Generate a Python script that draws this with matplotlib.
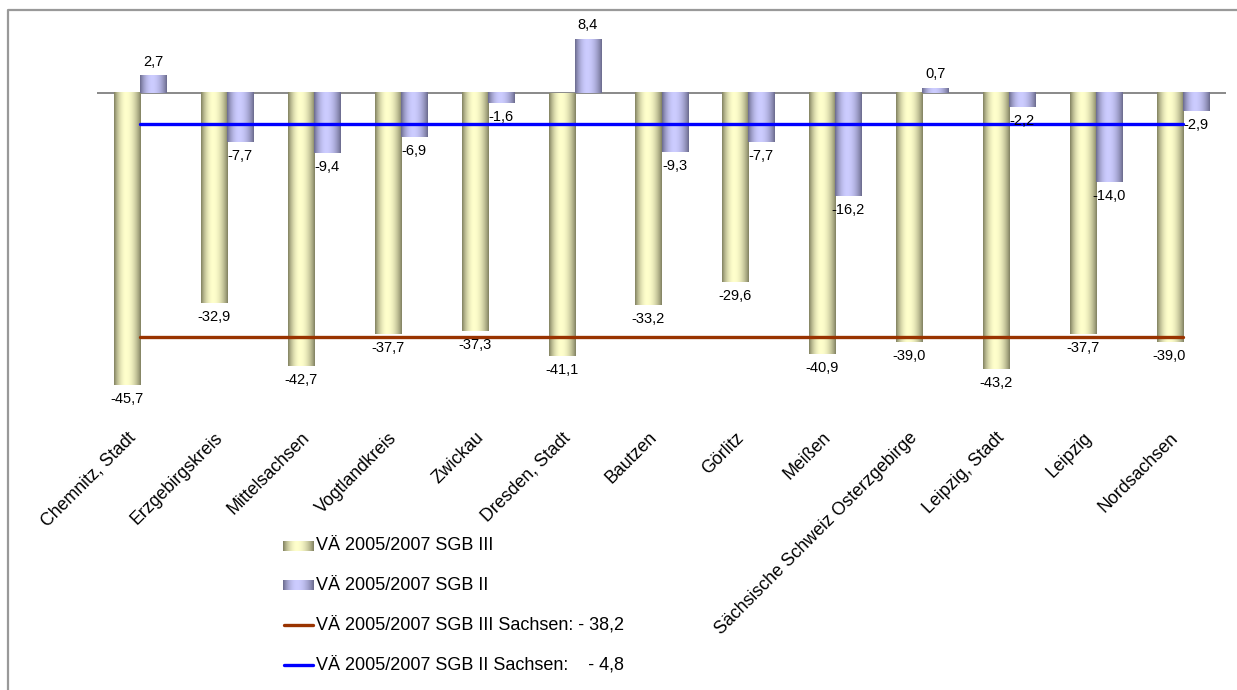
import numpy as np
import matplotlib.pyplot as plt
import matplotlib.transforms as mtransforms
from matplotlib.colors import to_rgb

plt.rcParams["font.family"] = ["Liberation Sans", "DejaVu Sans"]

kreise = ["Chemnitz, Stadt", "Erzgebirgskreis", "Mittelsachsen", "Vogtlandkreis",
          "Zwickau", "Dresden, Stadt", "Bautzen", "Görlitz", "Meißen",
          "Sächsische Schweiz Osterzgebirge", "Leipzig, Stadt", "Leipzig", "Nordsachsen"]
sgb3 = [-45.7, -32.9, -42.7, -37.7, -37.3, -41.1, -33.2, -29.6, -40.9, -39.0, -43.2, -37.7, -39.0]
sgb2 = [2.7, -7.7, -9.4, -6.9, -1.6, 8.4, -9.3, -7.7, -16.2, 0.7, -2.2, -14.0, -2.9]
sachsen_sgb3 = -38.2
sachsen_sgb2 = -4.8

legend_labels = ["VÄ 2005/2007 SGB III",
                 "VÄ 2005/2007 SGB II",
                 "VÄ 2005/2007 SGB III Sachsen: - 38,2",
                 "VÄ 2005/2007 SGB II Sachsen:    - 4,8"]

OLIVE = ("#7e7e5e", "#ffffcc")
LAVENDER = ("#68688a", "#ccccff")
RED = "#993300"
BLUE = "#0000ff"


def cylinder(edge, center, n=64):
    # horizontal shading: dark edges, highlight a bit left of the middle
    t = np.linspace(0, 1, n)
    f = np.where(t < 0.45, np.sin(t / 0.45 * np.pi / 2), np.cos((t - 0.45) / 0.55 * np.pi / 2))
    f = f ** 0.8
    e, c = np.array(to_rgb(edge)), np.array(to_rgb(center))
    return (e + (c - e) * f[:, None])[None, :, :]


def gradient_bar(axis, x0, x1, y0, y1, colors):
    axis.imshow(cylinder(*colors), extent=[x0, x1, min(y0, y1), max(y0, y1)],
                aspect="auto", interpolation="bicubic", zorder=2)


def fmt(v):
    return f"{v:.1f}".replace(".", ",")


fig = plt.figure(figsize=(12.37, 6.90), dpi=100)
W, H = 1237, 690
ax = fig.add_axes([97 / W, 1 - 410 / H, 1129 / W, 390 / H])

x = np.arange(len(kreise))
bw = 0.3

for i, (a, b) in enumerate(zip(sgb3, sgb2)):
    gradient_bar(ax, i - bw, i, 0, a, OLIVE)
    gradient_bar(ax, i, i + bw, 0, b, LAVENDER)
    for xc, v in ((i - bw / 2, a), (i + bw / 2, b)):
        off = 5 if v > 0 else -5
        ax.annotate(fmt(v), (xc, v), xytext=(0, off), textcoords="offset points",
                    ha="center", va="bottom" if v > 0 else "top", fontsize=10.5, zorder=5)

ax.axhline(0, color="#808080", lw=1.3, zorder=1)
ax.plot(x, [sachsen_sgb3] * len(x), color=RED, lw=2.4, solid_capstyle="round", zorder=4)
ax.plot(x, [sachsen_sgb2] * len(x), color=BLUE, lw=2.4, solid_capstyle="round", zorder=4)

ax.set_xlim(-0.5, len(kreise) - 0.5)
ax.set_ylim(-49.6, 11.4)
ax.set_xticks(x)
ax.set_xticklabels(kreise, rotation=45, ha="right", va="center", rotation_mode="anchor", fontsize=12.8)
ax.tick_params(axis="x", length=0, pad=16)
shift = mtransforms.ScaledTranslation(-0.07, -0.03, fig.dpi_scale_trans)
for lbl in ax.get_xticklabels():
    lbl.set_transform(lbl.get_transform() + shift)
ax.set_yticks([])
for s in ax.spines.values():
    s.set_visible(False)

# overlay in pixel coordinates for the frame and the legend
ov = fig.add_axes([0, 0, 1, 1], zorder=-1)
ov.axis("off")
ov.plot([8, 8, W + 5], [H + 5, 10, 10], color="#999999", lw=1.6)

rows = [546, 585, 625, 665]
for y, colors in zip(rows[:2], (OLIVE, LAVENDER)):
    ov.imshow(cylinder(*colors), extent=[283, 314, y + 5, y - 5], aspect="auto", interpolation="bicubic")
for y, c in zip(rows[2:], (RED, BLUE)):
    ov.plot([284, 313], [y, y], color=c, lw=2.4, solid_capstyle="round")
for y, lab in zip(rows, legend_labels):
    ov.text(316, y, lab, fontsize=13, va="center", ha="left")
ov.set_xlim(0, W)
ov.set_ylim(H, 0)

fig.savefig("out.png", dpi=100, facecolor="white")
